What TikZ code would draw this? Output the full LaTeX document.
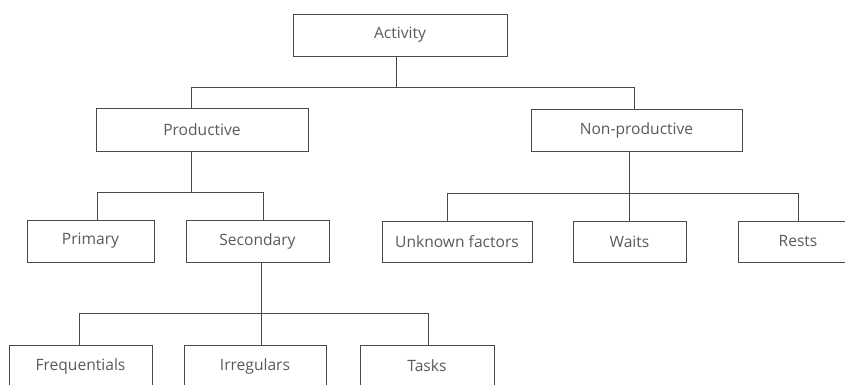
\documentclass[tikz,border=0pt]{standalone}
\usepackage{fontspec}
\setmainfont{Open Sans}
\definecolor{ln}{HTML}{4A4A4A}
\definecolor{tx}{HTML}{5A5A5A}
\begin{document}
\begin{tikzpicture}[x=1pt,y=1pt,
  box/.style={draw=ln, line width=0.8pt, fill=white, rectangle, inner sep=0pt,
    minimum height=42pt, text=tx, font=\fontsize{15.6}{17}\selectfont},
  conn/.style={draw=ln, line width=0.8pt}]
\useasboundingbox (0,0) rectangle (845,384);
\clip (0,0) rectangle (845,384);
\fill[white] (0,0) rectangle (845,384);
% nodes
\node[box, minimum width=214pt] (act) at (400,349) {Activity};
\node[box, minimum width=212pt, minimum height=43pt] (prod) at (202,254.5) {Productive};
\node[box, minimum width=211pt] (nonp) at (636.5,254) {Non-productive};
\node[box, minimum width=127pt] (prim) at (90.5,143) {Primary};
\node[box, minimum width=143pt] (sec) at (257.5,143) {Secondary};
\node[box, minimum width=150pt, minimum height=41pt] (unk) at (457,142.5) {Unknown factors};
\node[box, minimum width=113pt, minimum height=41pt] (waits) at (629.5,142.5) {Waits};
\node[box, minimum width=120pt, minimum height=41pt] (rests) at (798,142.5) {Rests};
\node[box, minimum width=143pt] (freq) at (80.5,18) {Frequentials};
\node[box, minimum width=142pt] (irr) at (255,18) {Irregulars};
\node[box, minimum width=134pt] (tasks) at (427,18) {Tasks};
% bus junctions
\coordinate (a0) at (396,297);
\coordinate (a1) at (191,297);
\coordinate (a2) at (634,297);
\coordinate (p0) at (191,192);
\coordinate (p1) at (97,192);
\coordinate (p2) at (263,192);
\coordinate (s0) at (261,71);
\coordinate (s1) at (79,71);
\coordinate (s3) at (428,71);
\coordinate (n0) at (629,191);
\coordinate (n1) at (447,191);
\coordinate (n3) at (798,191);
% connectors
\draw[conn] (act.south -| a0) -- (a0);
\draw[conn] (a1) -- (a2);
\draw[conn] (a1) -- (a1 |- prod.north);
\draw[conn] (a2) -- (a2 |- nonp.north);
\draw[conn] (prod.south -| p0) -- (p0);
\draw[conn] (p1) -- (p2);
\draw[conn] (p1) -- (p1 |- prim.north);
\draw[conn] (p2) -- (p2 |- sec.north);
\draw[conn] (sec.south -| s0) -- (s0);
\draw[conn] (s1) -- (s3);
\draw[conn] (s1) -- (s1 |- freq.north);
\draw[conn] (s0) -- (s0 |- irr.north);
\draw[conn] (s3) -- (s3 |- tasks.north);
\draw[conn] (nonp.south -| n0) -- (n0);
\draw[conn] (n1) -- (n3);
\draw[conn] (n1) -- (n1 |- unk.north);
\draw[conn] (n0) -- (n0 |- waits.north);
\draw[conn] (n3) -- (n3 |- rests.north);
\end{tikzpicture}
\end{document}
